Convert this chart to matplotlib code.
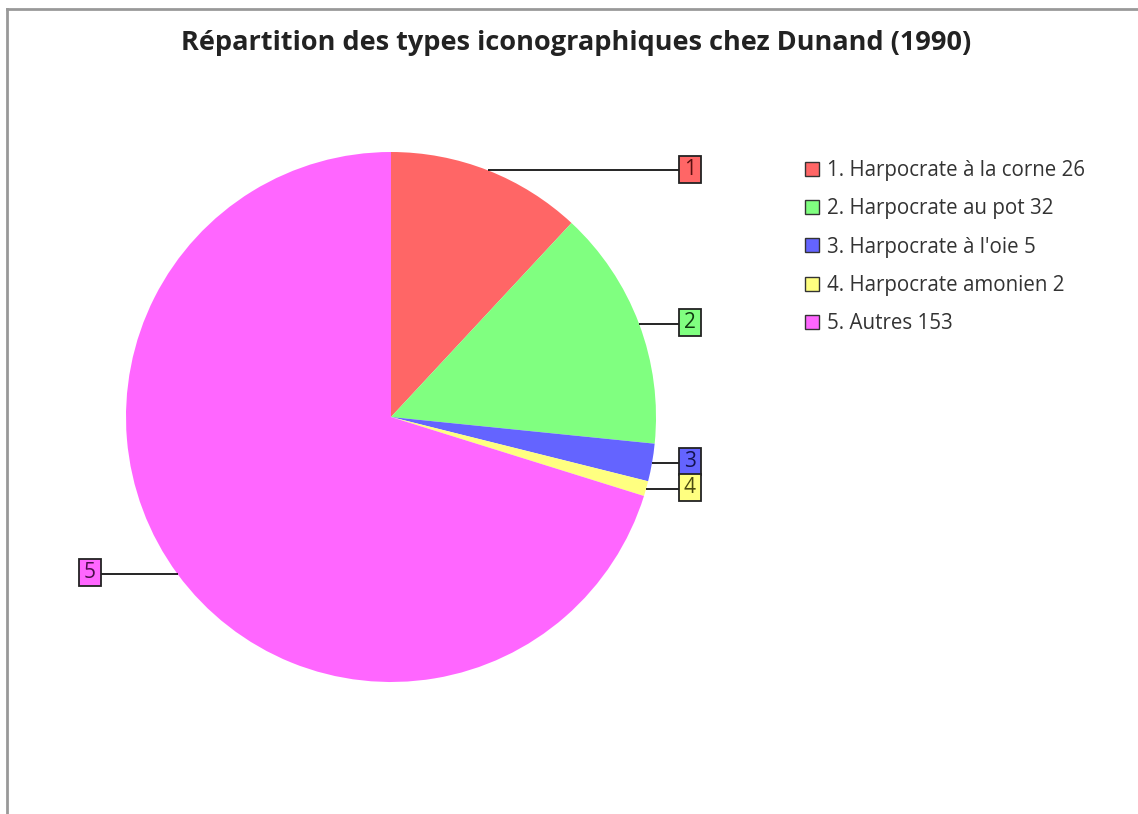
import matplotlib
matplotlib.use("Agg")
import matplotlib.pyplot as plt
from matplotlib.patches import Patch, Rectangle
from matplotlib.lines import Line2D
import numpy as np

plt.rcParams['font.family'] = ['Open Sans', 'DejaVu Sans']

title = "Répartition des types iconographiques chez Dunand (1990)"
categories = ["1. Harpocrate à la corne", "2. Harpocrate au pot", "3. Harpocrate à l'oie",
              "4. Harpocrate amonien", "5. Autres"]
short_labels = ["1", "2", "3", "4", "5"]
values = [26, 32, 5, 2, 153]
colors = ["#ff6666", "#80ff80", "#6464ff", "#ffff80", "#ff66ff"]
text_colors = ["#5a1010", "#103a10", "#141450", "#4a4a10", "#4a104a"]

W, H = 1138, 814
fig = plt.figure(figsize=(W / 100, H / 100), dpi=100)
ax = fig.add_axes([0, 0, 1, 1])

cx, cy, R = 391, H - 417, 265
wedges, _ = ax.pie(values, colors=colors, startangle=90, counterclock=False,
                   center=(cx, cy), radius=R, wedgeprops=dict(linewidth=0))
ax.set_xlim(0, W)
ax.set_ylim(0, H)
ax.set_aspect('equal')
ax.axis('off')

# leader lines and boxed labels
bw, bh = 22, 27
for w, lab, fc, tc in zip(wedges, short_labels, colors, text_colors):
    mid = np.deg2rad((w.theta1 + w.theta2) / 2)
    px, py = cx + R * np.cos(mid), cy + R * np.sin(mid)
    if np.cos(mid) >= 0:
        bx, tx = 679, 690
    else:
        bx, tx = 101, 90
    by = py + 1
    ax.plot([px, bx], [py, py], color='black', lw=1.2, solid_capstyle='butt')
    ax.add_patch(Rectangle((tx - bw / 2, by - bh / 2), bw, bh, facecolor=fc,
                           edgecolor='#222222', lw=1.3, zorder=3))
    ax.text(tx, by, lab, ha='center', va='center', fontsize=15, color=tc, zorder=4)

# title
fig.text(576 / W, 1 - 43 / H, title, ha='center', va='center', fontsize=19.5,
         fontweight='bold', color='#222222')

# legend
handles = [Patch(facecolor=c, edgecolor='#333333', linewidth=1.0) for c in colors]
labels = [f"{c} {v}" for c, v in zip(categories, values)]
leg = fig.legend(handles, labels, loc='upper left', bbox_to_anchor=(805 / W, 1 - 160 / H),
                 frameon=False, fontsize=14.8, handlelength=0.68, handleheight=0.68,
                 handletextpad=0.4, labelspacing=0.84, borderpad=0, borderaxespad=0)
for t in leg.get_texts():
    t.set_color('#333333')

# frame lines (top and left)
fig.add_artist(Line2D([7 / W, 1], [1 - 9 / H, 1 - 9 / H], transform=fig.transFigure,
                      color='#999999', lw=2))
fig.add_artist(Line2D([7 / W, 7 / W], [0, 1 - 9 / H], transform=fig.transFigure,
                      color='#999999', lw=2))

fig.savefig("out.png", dpi=100)
